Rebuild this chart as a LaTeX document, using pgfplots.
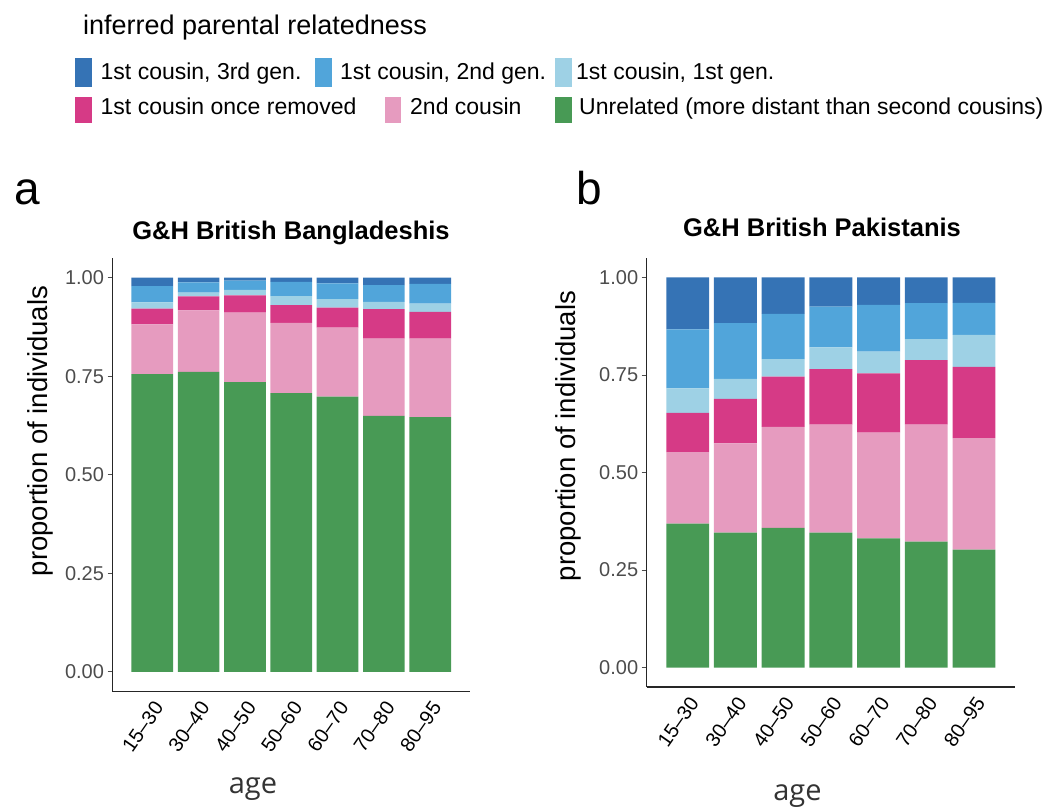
\documentclass[border=0pt]{standalone}
\usepackage{pgfplots}
\usepackage{pgfplotstable}
\pgfplotsset{compat=1.18}
\usepackage{fontspec}
\setmainfont{Liberation Sans}
\newfontfamily\agefont{Open Sans}

\definecolor{cthree}{RGB}{53,115,181}
\definecolor{ctwo}{RGB}{81,165,218}
\definecolor{cone}{RGB}{158,209,229}
\definecolor{cor}{RGB}{214,58,134}
\definecolor{csc}{RGB}{230,155,191}
\definecolor{cun}{RGB}{72,154,85}

\pgfplotstableread{
x un sc or fg sg tg
1 0.755 0.126 0.040 0.016 0.041 0.022
2 0.761 0.156 0.035 0.010 0.026 0.012
3 0.735 0.176 0.044 0.014 0.023 0.008
4 0.707 0.178 0.045 0.023 0.036 0.011
5 0.698 0.175 0.051 0.021 0.040 0.015
6 0.649 0.196 0.075 0.018 0.043 0.019
7 0.646 0.199 0.068 0.021 0.050 0.016
}\dataA

\pgfplotstableread{
x un sc or fg sg tg
1 0.369 0.183 0.101 0.063 0.151 0.133
2 0.346 0.229 0.114 0.051 0.143 0.117
3 0.358 0.259 0.129 0.045 0.116 0.093
4 0.346 0.277 0.142 0.056 0.104 0.075
5 0.331 0.271 0.152 0.056 0.120 0.070
6 0.323 0.300 0.165 0.054 0.092 0.066
7 0.302 0.286 0.183 0.082 0.082 0.065
}\dataB

\pgfplotsset{
  panel/.style={
    ybar stacked, bar width=0.9, scale only axis,
    xmin=0.14, xmax=7.86, ymin=-0.05, ymax=1.05,
    axis x line*=bottom, axis y line*=left,
    axis line style={-, line width=1.2pt, black!85},
    xtick={1,...,7},
    xticklabels={15–30,30–40,40–50,50–60,60–70,70–80,80–95},
    ytick={0,0.25,0.5,0.75,1},
    yticklabels={0.00,0.25,0.50,0.75,1.00},
    xtick style={draw=none},
    ytick style={line width=1pt, black!70},
    tick align=outside, major tick length=5pt,
    ticklabel style={font=\fontsize{20}{24}\selectfont},
    yticklabel style={text=black!70},
    xticklabel style={rotate=55, anchor=north east, text=black, inner sep=2pt},
  },
}

\begin{document}
\begin{tikzpicture}
\useasboundingbox (0,0) rectangle (1047pt,807pt);

% legend
\node[anchor=base west, inner sep=0, font=\fontsize{27}{30}\selectfont] at (83pt,772pt) {inferred parental relatedness};
\fill[cthree] (75pt,720.3pt) rectangle (92pt,748.7pt);
\node[anchor=base west, inner sep=0, font=\fontsize{23}{27}\selectfont] at (100.5pt,727.5pt) {1st cousin, 3rd gen.};
\fill[ctwo] (315pt,720.3pt) rectangle (332pt,748.7pt);
\node[anchor=base west, inner sep=0, font=\fontsize{23}{27}\selectfont] at (340pt,727.5pt) {1st cousin, 2nd gen.};
\fill[cone] (555pt,720.3pt) rectangle (572pt,748.7pt);
\node[anchor=base west, inner sep=0, font=\fontsize{23}{27}\selectfont] at (576pt,727.5pt) {1st cousin, 1st gen.};
\fill[cor] (75pt,683.7pt) rectangle (92pt,710.3pt);
\node[anchor=base west, inner sep=0, font=\fontsize{23}{27}\selectfont] at (100.5pt,692pt) {1st cousin once removed};
\fill[csc] (385pt,683.7pt) rectangle (401pt,710.3pt);
\node[anchor=base west, inner sep=0, font=\fontsize{23}{27}\selectfont] at (410pt,692pt) {2nd cousin};
\fill[cun] (555pt,683.7pt) rectangle (572pt,710.3pt);
\node[anchor=base west, inner sep=0, font=\fontsize{23}{27}\selectfont] at (579pt,692pt) {Unrelated (more distant than second cousins)};

% panel letters and titles
\node[anchor=base west, inner sep=0, font=\fontsize{46}{50}\selectfont] at (14pt,602pt) {a};
\node[anchor=base west, inner sep=0, font=\fontsize{46}{50}\selectfont] at (576pt,602pt) {b};
\node[anchor=base, inner sep=0, font=\bfseries\fontsize{25.5}{30}\selectfont] at (291pt,567pt) {G\&H British Bangladeshis};
\node[anchor=base, inner sep=0, font=\bfseries\fontsize{25.5}{30}\selectfont] at (822pt,570.3pt) {G\&H British Pakistanis};

% y labels
\node[rotate=90, inner sep=0, font=\fontsize{27.5}{30}\selectfont] at (40pt,376pt) {proportion of individuals};
\node[rotate=90, inner sep=0, font=\fontsize{27.5}{30}\selectfont] at (568pt,371pt) {proportion of individuals};

% x labels
\node[anchor=base, inner sep=0, font=\agefont\fontsize{29}{32}\selectfont, text=black!80] at (253pt,13.7pt) {age};
\node[anchor=base, inner sep=0, font=\agefont\fontsize{29}{32}\selectfont, text=black!80] at (797.5pt,7pt) {age};

\begin{axis}[panel, at={(112.5pt,115.3pt)}, anchor=south west, width=357.5pt, height=433.9pt]
\addplot[fill=cun, draw=none] table[x=x,y=un]{\dataA};
\addplot[fill=csc, draw=none] table[x=x,y=sc]{\dataA};
\addplot[fill=cor, draw=none] table[x=x,y=or]{\dataA};
\addplot[fill=cone, draw=none] table[x=x,y=fg]{\dataA};
\addplot[fill=ctwo, draw=none] table[x=x,y=sg]{\dataA};
\addplot[fill=cthree, draw=none] table[x=x,y=tg]{\dataA};
\end{axis}

\begin{axis}[panel, at={(646.7pt,120pt)}, anchor=south west, width=368.3pt, height=429pt]
\addplot[fill=cun, draw=none] table[x=x,y=un]{\dataB};
\addplot[fill=csc, draw=none] table[x=x,y=sc]{\dataB};
\addplot[fill=cor, draw=none] table[x=x,y=or]{\dataB};
\addplot[fill=cone, draw=none] table[x=x,y=fg]{\dataB};
\addplot[fill=ctwo, draw=none] table[x=x,y=sg]{\dataB};
\addplot[fill=cthree, draw=none] table[x=x,y=tg]{\dataB};
\end{axis}
\end{tikzpicture}
\end{document}
